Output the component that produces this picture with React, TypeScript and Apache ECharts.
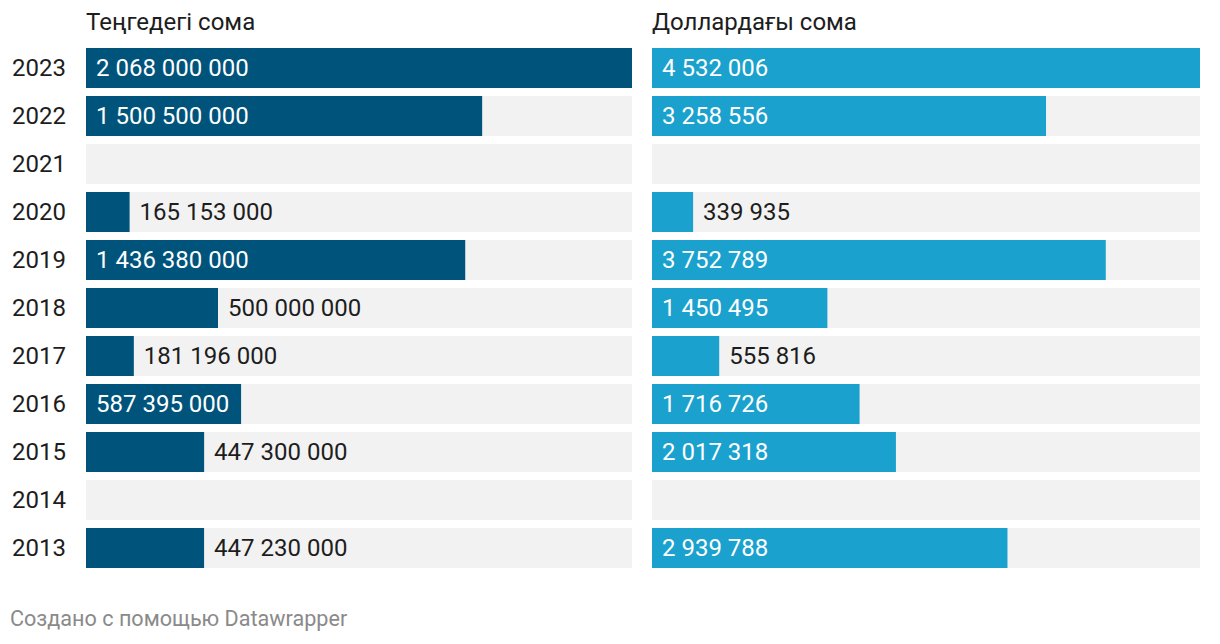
import React, { useEffect, useRef } from "react";
import * as echarts from "echarts";

const years = ["2023", "2022", "2021", "2020", "2019", "2018", "2017", "2016", "2015", "2014", "2013"];
const tengeValues: (number | null)[] = [2068000000, 1500500000, null, 165153000, 1436380000, 500000000, 181196000, 587395000, 447300000, null, 447230000];
const dollarValues: (number | null)[] = [4532006, 3258556, null, 339935, 3752789, 1450495, 555816, 1716726, 2017318, null, 2939788];
const leftTitle = "Теңгедегі сома";
const rightTitle = "Доллардағы сома";
const footer = "Создано с помощью Datawrapper";

const DARK = "#00547b";
const LIGHT = "#1aa1cd";
const BG = "#f2f2f2";
const TEXT = "#1d1d1d";
const FONT = "Roboto";
const FS = 24;

const fmt = (v: number) => String(v).replace(/\B(?=(\d{3})+(?!\d))/g, " ");

function measure(t: string): number {
  const c = document.createElement("canvas").getContext("2d");
  if (!c) return t.length * 12.5;
  c.font = `${FS}px ${FONT}`;
  return c.measureText(t).width;
}

function buildData(values: (number | null)[], max: number, widthPx: number, color: string) {
  return values.map((v) => {
    if (v == null) return { value: null };
    const txt = fmt(v);
    const barPx = (v / max) * widthPx;
    const inside = barPx > measure(txt) + 20;
    return {
      value: v,
      itemStyle: { color },
      label: {
        show: true,
        formatter: txt,
        position: inside ? "insideLeft" : "right",
        distance: 10,
        color: inside ? "#ffffff" : TEXT,
        fontFamily: FONT,
        fontSize: FS,
      },
    };
  });
}

export default function App() {
  const ref = useRef<HTMLDivElement>(null);
  useEffect(() => {
    if (!ref.current) return;
    const chart = echarts.init(ref.current, undefined, { renderer: "svg" });
    const leftMax = 2068000000;
    const rightMax = 4532006;
    const leftW = 546;
    const rightW = 548;
    chart.setOption({
      animation: false,
      backgroundColor: "#ffffff",
      textStyle: { fontFamily: FONT },
      grid: [
        { left: 86, top: 44, width: leftW, height: 528 },
        { left: 652, top: 44, width: rightW, height: 528 },
      ],
      xAxis: [
        { gridIndex: 0, type: "value", min: 0, max: leftMax, show: false },
        { gridIndex: 1, type: "value", min: 0, max: rightMax, show: false },
      ],
      yAxis: [
        {
          gridIndex: 0,
          type: "category",
          data: years,
          inverse: true,
          axisLine: { show: false },
          axisTick: { show: false },
          axisLabel: { margin: 20, color: TEXT, fontSize: FS, fontFamily: FONT },
        },
        {
          gridIndex: 1,
          type: "category",
          data: years,
          inverse: true,
          show: false,
        },
      ],
      graphic: [
        { type: "text", left: 86, top: 10, style: { text: leftTitle, fill: TEXT, font: `${FS}px ${FONT}` } },
        { type: "text", left: 652, top: 10, style: { text: rightTitle, fill: TEXT, font: `${FS}px ${FONT}` } },
        { type: "text", left: 10, top: 607, style: { text: footer, fill: "#8a8a8a", font: `21.6px ${FONT}` } },
      ],
      series: [
        {
          type: "bar",
          xAxisIndex: 0,
          yAxisIndex: 0,
          barCategoryGap: "16.67%",
          showBackground: true,
          backgroundStyle: { color: BG },
          data: buildData(tengeValues, leftMax, leftW, DARK),
        },
        {
          type: "bar",
          xAxisIndex: 1,
          yAxisIndex: 1,
          barCategoryGap: "16.67%",
          showBackground: true,
          backgroundStyle: { color: BG },
          data: buildData(dollarValues, rightMax, rightW, LIGHT),
        },
      ],
    });
    return () => chart.dispose();
  }, []);
  return <div ref={ref} style={{ width: 1220, height: 644, position: "absolute", left: 0, top: 0 }} />;
}
